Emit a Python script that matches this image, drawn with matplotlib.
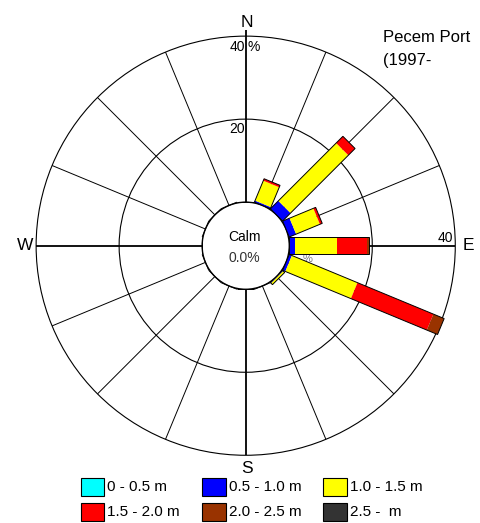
import numpy as np
import matplotlib
matplotlib.use("Agg")
import matplotlib.pyplot as plt
from matplotlib.patches import Polygon, Circle, Rectangle

plt.rcParams['font.family'] = ['Liberation Sans', 'DejaVu Sans']

# ---- data -----------------------------------------------------------------
directions = ['N', 'NNE', 'NE', 'ENE', 'E', 'ESE', 'SE', 'SSE',
              'S', 'SSW', 'SW', 'WSW', 'W', 'WNW', 'NW', 'NNW']
height_classes = ['0 - 0.5 m', '0.5 - 1.0 m', '1.0 - 1.5 m',
                  '1.5 - 2.0 m', '2.0 - 2.5 m', '2.5 -  m']
class_colors = ['#00FFFF', '#0000FF', '#FFFF00', '#FF0000', '#993300', '#333333']

# frequency of occurrence (%) by direction, one list per wave-height class
freq_h00_05 = [0, 0, 0, 0, 0, 0, 0, 0, 0, 0, 0, 0, 0, 0, 0, 0]
freq_h05_10 = [0, 0.4, 2.7, 1.8, 1.4, 0.7, 0.2, 0, 0, 0, 0, 0, 0, 0, 0, 0]
freq_h10_15 = [0, 5.2, 19.7, 6.2, 10.0, 17.1, 0.5, 0, 0, 0, 0, 0, 0, 0, 0, 0]
freq_h15_20 = [0, 0.5, 2.3, 0.6, 7.3, 19.8, 0, 0, 0, 0, 0, 0, 0, 0, 0, 0]
freq_h20_25 = [0, 0, 0, 0, 0.4, 2.8, 0, 0, 0, 0, 0, 0, 0, 0, 0, 0]
freq_h25_up = [0, 0, 0, 0, 0, 0, 0, 0, 0, 0, 0, 0, 0, 0, 0, 0]

calm_pct = 0.0
ring_values = [20, 40]
title_lines = ['Pecem Port', '(1997-']

# ---- geometry -------------------------------------------------------------
W_PX, H_PX = 481, 523
CX, CY = 245.7, 245.7          # rose centre in pixels (from top-left)
PX_PER_UNIT = 4.15
R0 = 10.5                      # radius of the calm circle in % units
HALF_W = 2.08                  # half width of a bar in % units
R_MAX = R0 + ring_values[-1]

fig = plt.figure(figsize=(W_PX / 100, H_PX / 100), dpi=100)
ax = fig.add_axes([0, 0, 1, 1])
ax.set_xlim(-CX / PX_PER_UNIT, (W_PX - CX) / PX_PER_UNIT)
ax.set_ylim(-(H_PX - CY) / PX_PER_UNIT, CY / PX_PER_UNIT)
ax.set_aspect('equal')
ax.axis('off')

angles = np.deg2rad(np.arange(len(directions)) * 22.5)

# rings
for rv in ring_values:
    ax.add_patch(Circle((0, 0), R0 + rv, fill=False, ec='black', lw=0.8, zorder=1))

# spokes
for i, a in enumerate(angles):
    u = np.array([np.sin(a), np.cos(a)])
    cardinal = i % 4 == 0
    r_end = R_MAX + (1.5 if i == 0 else 0)
    ax.plot([R0 * u[0], r_end * u[0]], [R0 * u[1], r_end * u[1]],
            color='black', lw=1.3 if cardinal else 0.7, zorder=1,
            solid_capstyle='butt')

# calm circle
ax.add_patch(Circle((0, 0), R0, fc='white', ec='black', lw=1.0, zorder=3))

# small ring label partly hidden below the bars
ax.text((307.5 - CX) / PX_PER_UNIT, (CY - 259) / PX_PER_UNIT, '%',
        fontsize=8, color='#777777', ha='center', va='center', zorder=2)

# stacked bars
classes = [freq_h00_05, freq_h05_10, freq_h10_15, freq_h15_20, freq_h20_25, freq_h25_up]
stack = np.array(classes, dtype=float)          # (class, direction)
cum = np.cumsum(stack, axis=0)


def bar_poly(a, r_in, r_out):
    u = np.array([np.sin(a), np.cos(a)])
    p = np.array([np.cos(a), -np.sin(a)])
    return np.array([r_in * u - HALF_W * p, r_out * u - HALF_W * p,
                     r_out * u + HALF_W * p, r_in * u + HALF_W * p])


for j, a in enumerate(angles):
    start = 0.0
    for k in range(len(classes)):
        end = cum[k, j]
        if end > start:
            ax.add_patch(Polygon(bar_poly(a, R0 + start, R0 + end), closed=True,
                                 fc=class_colors[k], ec='none', zorder=4))
        start = end
    ax.add_patch(Polygon(bar_poly(a, R0, R0 + cum[-1, j]), closed=True,
                         fill=False, ec='black', lw=0.7, zorder=5))

# centre text
ax.text(-0.4, 2.2, 'Calm', fontsize=10, ha='center', va='center', zorder=6)
ax.text(-0.4, -2.9, f'{calm_pct:.1f}%', fontsize=10, ha='center', va='center',
        color='#333333', zorder=6)

# compass labels
lab_r = 53.8
ax.text(0.3, lab_r, 'N', fontsize=12.5, ha='center', va='center')
ax.text(0.2, -lab_r, 'S', fontsize=12.5, ha='center', va='center')
ax.text(-53.2, 0, 'W', fontsize=12.5, ha='center', va='center')
ax.text(53.6, 0, 'E', fontsize=12.5, ha='center', va='center')

# ring value labels
ax.text(-0.2, (CY - 46.7) / PX_PER_UNIT, f'{ring_values[1]}', fontsize=10,
        ha='right', va='center')
ax.text(0.5, (CY - 46.7) / PX_PER_UNIT, '%', fontsize=10, ha='left', va='center')
ax.text(-0.2, (CY - 129.3) / PX_PER_UNIT, f'{ring_values[0]}', fontsize=10,
        ha='right', va='center')
ax.text(R_MAX - 0.6, 1.8, f'{ring_values[1]}', fontsize=10, ha='right', va='center')

# title
ax.text((383 - CX) / PX_PER_UNIT, (CY - 38) / PX_PER_UNIT, title_lines[0],
        fontsize=12, ha='left', va='center')
ax.text((383 - CX) / PX_PER_UNIT, (CY - 60) / PX_PER_UNIT, title_lines[1],
        fontsize=12, ha='left', va='center')

# legend in pixel coordinates
lax = fig.add_axes([0, 0, 1, 1])
lax.set_xlim(0, W_PX)
lax.set_ylim(H_PX, 0)
lax.axis('off')
col_x = [80.7, 202.3, 323.3]
row_y = [477.7, 503.0]
box_w, box_h = 23.3, 18.0
for k, (lab, col) in enumerate(zip(height_classes, class_colors)):
    x0 = col_x[k % 3]
    y0 = row_y[k // 3]
    lax.add_patch(Rectangle((x0, y0), box_w, box_h, fc=col, ec='black', lw=0.8))
    lax.text(x0 + box_w + 3.5, y0 + box_h / 2 + 0.5, lab, fontsize=11,
             ha='left', va='center')

fig.savefig('out.png', dpi=100)
